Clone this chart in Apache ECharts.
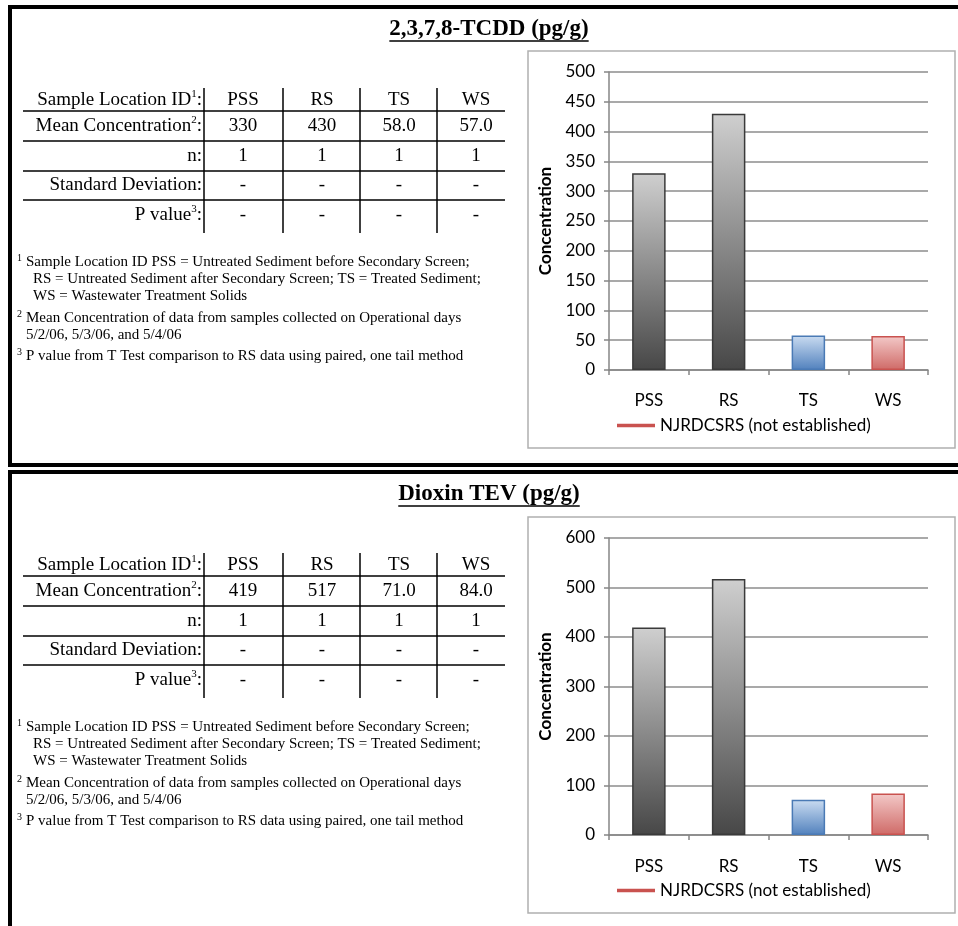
<!DOCTYPE html>
<html>
<head>
<meta charset="utf-8">
<script src="https://cdn.jsdelivr.net/npm/echarts@6/dist/echarts.min.js"></script>
<style>
  html, body { margin: 0; padding: 0; background: #fff; }
  #main { width: 958px; height: 926px; }
</style>
</head>
<body>
<div id="main"></div>
<script>
  // data
  var categories = ['PSS', 'RS', 'TS', 'WS'];
  var tcddMean = [330, 430, 58.0, 57.0];
  var tevMean = [419, 517, 71.0, 84.0];
  var sampleCount = [1, 1, 1, 1];
  var stdDev = ['-', '-', '-', '-'];
  var pValue = ['-', '-', '-', '-'];
  var tcddTicks = [0, 500, 50];   // min, max, interval
  var tevTicks = [0, 600, 100];
  var legendName = 'NJRDCSRS (not established)';
  var panelTitles = ['2,3,7,8-TCDD (pg/g)', 'Dioxin TEV (pg/g)'];
  var rowLabels = ['Sample Location ID', 'Mean Concentration', 'n', 'Standard Deviation', 'P value'];
  var rowMarks = ['1', '2', '', '', '3'];
  var footMarks = ['1', '', '', '2', '', '3'];
  var footText = [
    'Sample Location ID PSS = Untreated Sediment before Secondary Screen;',
    'RS = Untreated Sediment after Secondary Screen; TS = Treated Sediment;',
    'WS = Wastewater Treatment Solids',
    'Mean Concentration of data from samples collected on Operational days',
    '5/2/06, 5/3/06, and 5/4/06',
    'P value from T Test comparison to RS data using paired, one tail method'
  ];

  var serif = "'Liberation Serif', 'DejaVu Serif', serif";
  var sans = "Lato, 'Open Sans', sans-serif";

  var myChart = echarts.init(document.getElementById('main'));

  function fmt(v) {
    return v >= 100 ? String(v) : v.toFixed(1);
  }

  function grad(top, bottom) {
    return { type: 'linear', x: 0, y: 0, x2: 0, y2: 1,
      colorStops: [{ offset: 0, color: top }, { offset: 1, color: bottom }] };
  }
  // bar looks: grey, grey, blue, red
  var barLooks = [
    { color: grad('#cfcfcf', '#474747'), borderColor: '#3a3a3a', borderWidth: 1.5 },
    { color: grad('#cfcfcf', '#474747'), borderColor: '#3a3a3a', borderWidth: 1.5 },
    { color: grad('#cadcf1', '#5181bd'), borderColor: '#4a7ab5', borderWidth: 1.5 },
    { color: grad('#f3c9c8', '#cf6a67'), borderColor: '#c9524f', borderWidth: 1.5 }
  ];

  function measure(text, font) {
    var c = document.createElement('canvas').getContext('2d');
    c.font = font;
    return c.measureText(text).width;
  }

  function txt(x, y, text, size, align, extra) {
    var st = {
      text: text, fill: '#000',
      font: (extra && extra.bold ? 'bold ' : '') + size + 'px ' + serif,
      textAlign: align, align: align,
      textVerticalAlign: 'middle', verticalAlign: 'middle'
    };
    return { type: 'text', x: x, y: y, style: st, z: 100 };
  }

  function richLabel(x, y, label, mark) {
    var t = '{a|' + label + '}' + (mark ? '{s|' + mark + '}' : '') + '{a|:}';
    return {
      type: 'text', x: x, y: y, z: 100,
      style: {
        text: t, textAlign: 'right', align: 'right',
        textVerticalAlign: 'middle', verticalAlign: 'middle',
        rich: {
          a: { fontFamily: serif, fontSize: 19, lineHeight: 22, fill: '#000', color: '#000' },
          s: { fontFamily: serif, fontSize: 11, lineHeight: 11, verticalAlign: 'top', fill: '#000', color: '#000' }
        }
      }
    };
  }

  function line(x1, y1, x2, y2, w, c) {
    return { type: 'line', z: 100, shape: { x1: x1, y1: y1, x2: x2, y2: y2 },
      style: { stroke: c || '#000', lineWidth: w || 1.5 } };
  }

  function panel(off, title, values) {
    var g = [];
    // title + underline
    var tFont = 'bold 23px ' + serif;
    var tw = measure(title, tFont);
    g.push(txt(489, 29 + off, title, 23, 'center', { bold: true }));
    g.push(line(489 - tw / 2, 41 + off, 489 + tw / 2, 41 + off, 1.5));

    // table
    var rowY = [100, 126, 156, 185, 215];
    var colX = [243, 322, 399, 476];
    var rows = [categories, values.map(fmt), sampleCount.map(String), stdDev, pValue];
    rows.forEach(function (r, i) {
      g.push(richLabel(202, rowY[i] + off, rowLabels[i], rowMarks[i]));
      r.forEach(function (v, j) {
        g.push(txt(colX[j], rowY[i] + off, v, 19, 'center'));
      });
    });
    [111, 141, 171, 200].forEach(function (y) {
      g.push(line(23, y + off, 505, y + off, 1.5));
    });
    [204, 283, 360, 437].forEach(function (x) {
      g.push(line(x, 88 + off, x, 233 + off, 1.5));
    });

    // footnotes
    var footY = [262, 279, 296, 318, 335, 356];
    var footX = [26, 33, 33, 26, 26, 26];
    footText.forEach(function (t, i) {
      if (footMarks[i]) g.push(txt(17, footY[i] - 4 + off, footMarks[i], 10, 'left'));
      g.push(txt(footX[i], footY[i] + off, t, 15, 'left'));
    });
    return g;
  }

  var graphics = [
    // black frames
    { type: 'rect', shape: { x: 8, y: 5, width: 950, height: 4 }, style: { fill: '#000' } },
    { type: 'rect', shape: { x: 8, y: 5, width: 4, height: 462 }, style: { fill: '#000' } },
    { type: 'rect', shape: { x: 8, y: 463, width: 950, height: 4 }, style: { fill: '#000' } },
    { type: 'rect', shape: { x: 8, y: 470, width: 950, height: 4 }, style: { fill: '#000' } },
    { type: 'rect', shape: { x: 8, y: 470, width: 4, height: 456 }, style: { fill: '#000' } },
    // chart boxes
    { type: 'rect', shape: { x: 528, y: 51, width: 427, height: 397 }, style: { fill: 'none', stroke: '#b0b0b0', lineWidth: 1.5 } },
    { type: 'rect', shape: { x: 528, y: 517, width: 427, height: 396 }, style: { fill: 'none', stroke: '#b0b0b0', lineWidth: 1.5 } }
  ].concat(panel(0, panelTitles[0], tcddMean), panel(465, panelTitles[1], tevMean));

  function xAxisOf(idx, margin) {
    return {
      type: 'category', gridIndex: idx, data: categories,
      axisLine: { lineStyle: { color: '#868686', width: 1.5 } },
      axisTick: { show: true, length: 5, lineStyle: { color: '#868686', width: 1.5 } },
      axisLabel: { color: '#000', fontFamily: sans, fontSize: 17, margin: margin }
    };
  }
  function yAxisOf(idx, ticks) {
    return {
      type: 'value', gridIndex: idx, min: ticks[0], max: ticks[1], interval: ticks[2],
      name: 'Concentration', nameLocation: 'middle', nameRotate: 90, nameGap: 55,
      nameTextStyle: { color: '#000', fontFamily: sans, fontSize: 17, fontWeight: 'bold' },
      axisLine: { show: true, lineStyle: { color: '#868686', width: 1.5 } },
      axisTick: { show: true, length: 5, lineStyle: { color: '#868686', width: 1.5 } },
      axisLabel: { color: '#000', fontFamily: sans, fontSize: 17, margin: 14 },
      splitLine: { show: true, lineStyle: { color: '#8c8c8c', width: 1.5 } }
    };
  }
  function barsOf(idx, values) {
    return {
      type: 'bar', xAxisIndex: idx, yAxisIndex: idx, barWidth: '42%',
      data: values.map(function (v, i) { return { value: v, itemStyle: barLooks[i] }; })
    };
  }
  function refLineOf(idx) {
    return {
      type: 'line', name: legendName, xAxisIndex: idx, yAxisIndex: idx, data: [],
      itemStyle: { color: '#c9524f' }, lineStyle: { color: '#c9524f', width: 3 }
    };
  }
  function legendOf(top) {
    return {
      left: 612, top: top, data: [legendName], icon: 'rect',
      itemWidth: 38, itemHeight: 3.5, itemGap: 5,
      textStyle: { color: '#000', fontFamily: sans, fontSize: 17 }
    };
  }

  var option = {
    animation: false,
    backgroundColor: '#fff',
    grid: [
      { left: 609, top: 72, width: 319, height: 298 },
      { left: 609, top: 538, width: 319, height: 297 }
    ],
    xAxis: [xAxisOf(0, 22), xAxisOf(1, 23)],
    yAxis: [yAxisOf(0, tcddTicks), yAxisOf(1, tevTicks)],
    legend: [legendOf(412), legendOf(877)],
    series: [barsOf(0, tcddMean), refLineOf(0), barsOf(1, tevMean), refLineOf(1)],
    graphic: graphics
  };
  myChart.setOption(option);
</script>
</body>
</html>
